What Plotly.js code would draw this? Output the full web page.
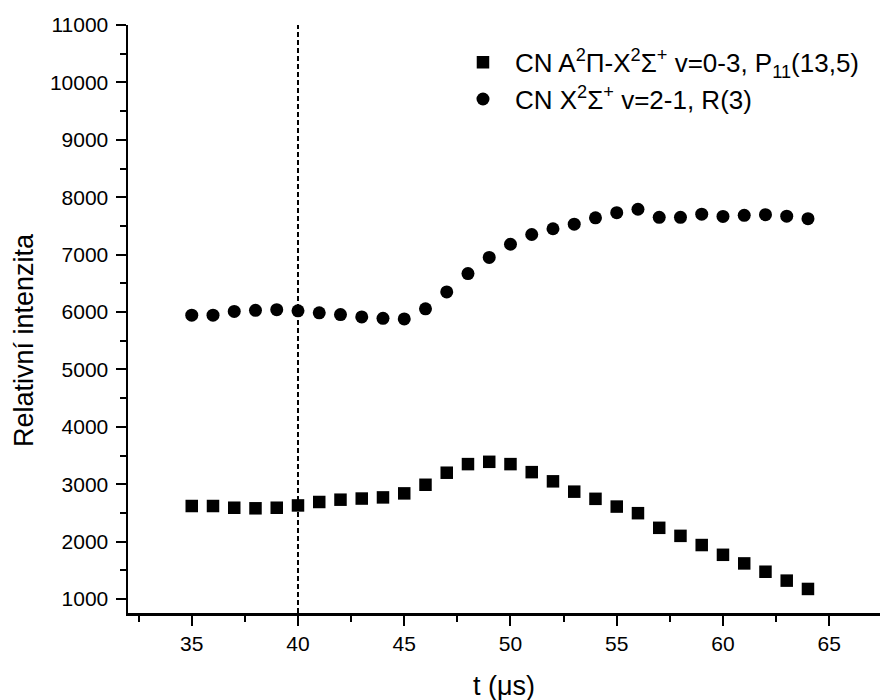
<!DOCTYPE html>
<html>
<head>
<meta charset="utf-8">
<script src="https://cdn.plot.ly/plotly-3.0.1.min.js"></script>
<style>html,body{margin:0;padding:0;background:#fff;}#chart{width:880px;height:700px;}</style>
</head>
<body>
<div id="chart"></div>
<script>
const tValues = [35,36,37,38,39,40,41,42,43,44,45,46,47,48,49,50,51,52,53,54,55,56,57,58,59,60,61,62,63,64];
const seriesAName = "CN A<sup>2</sup>Π-X<sup>2</sup>Σ<sup>+</sup> v=0-3, P<sub>11</sub>(13,5)";
const seriesAValues = [2620,2620,2590,2580,2590,2630,2690,2730,2750,2770,2840,2990,3200,3350,3390,3350,3210,3050,2870,2745,2610,2495,2240,2100,1940,1770,1620,1475,1320,1175];
const seriesBName = "CN X<sup>2</sup>Σ<sup>+</sup> v=2-1, R(3)";
const seriesBValues = [5945,5945,6010,6030,6040,6020,5985,5955,5915,5890,5880,6055,6350,6670,6950,7180,7350,7450,7530,7640,7730,7790,7650,7650,7705,7665,7685,7695,7670,7625];
const markerLineT = 40;
const xTitle = "t (μs)";
const yTitle = "Relativní intenzita";

const font = "Liberation Sans, Arial, sans-serif";

const traces = [
  {x: tValues, y: seriesAValues, name: seriesAName, mode: 'markers', type: 'scatter',
   legendgroup: 'a',
   marker: {symbol: 'square', size: 12.5, color: '#000'}},
  {x: tValues, y: seriesBValues, name: seriesBName, mode: 'markers', type: 'scatter',
   legendgroup: 'b',
   marker: {symbol: 'circle', size: 13, color: '#000'}}
];

function axisBase() {
  return {
    showline: true, linewidth: 2.5, linecolor: '#000',
    ticks: 'outside', ticklen: 10, tickwidth: 2, tickcolor: '#000',
    showgrid: false, zeroline: false,
    exponentformat: 'none', separatethousands: false, tickformat: 'd',
    tickfont: {family: font, size: 21, color: '#000'},
    mirror: false
  };
}

const xaxis = axisBase();
xaxis.range = [32, 67.39];
xaxis.tickmode = 'linear';
xaxis.tick0 = 35;
xaxis.dtick = 5;
xaxis.minor = {tickmode: 'linear', tick0: 32.5, dtick: 5, ticks: 'outside', ticklen: 6, tickwidth: 2, tickcolor: '#000'};

const yaxis = axisBase();
yaxis.range = [756, 11000];
yaxis.tickmode = 'linear';
yaxis.tick0 = 1000;
yaxis.dtick = 1000;
yaxis.ticklabelstandoff = 3;
yaxis.minor = {tickmode: 'linear', tick0: 500, dtick: 1000, ticks: 'outside', ticklen: 6, tickwidth: 2, tickcolor: '#000'};

const layout = {
  width: 880, height: 700,
  margin: {l: 128, r: 0, t: 25, b: 87},
  paper_bgcolor: '#fff', plot_bgcolor: '#fff',
  showlegend: true,
  legend: {
    x: 0.4295, y: 0.9765, xanchor: 'left', yanchor: 'top',
    bgcolor: 'rgba(0,0,0,0)', borderwidth: 0,
    font: {family: font, size: 26, color: '#000'},
    itemwidth: 54, traceorder: 'grouped', tracegroupgap: 0
  },
  xaxis: xaxis,
  yaxis: yaxis,
  shapes: [{
    type: 'line', xref: 'x', yref: 'paper', x0: markerLineT, x1: markerLineT, y0: 0, y1: 1,
    line: {color: '#000', width: 2, dash: '5px,3px'}
  }],
  annotations: [
    {text: xTitle, xref: 'paper', yref: 'paper', x: 0.5, y: 0, yshift: -73, xanchor: 'center', yanchor: 'middle',
     showarrow: false, font: {family: font, size: 27, color: '#000'}},
    {text: yTitle, xref: 'paper', yref: 'paper', x: 0, xshift: -104, y: 0.5, yshift: -21, xanchor: 'center', yanchor: 'middle',
     textangle: -90, showarrow: false, font: {family: font, size: 27, color: '#000'}}
  ]
};

Plotly.newPlot('chart', traces, layout, {displayModeBar: false, staticPlot: true});
</script>
</body>
</html>
